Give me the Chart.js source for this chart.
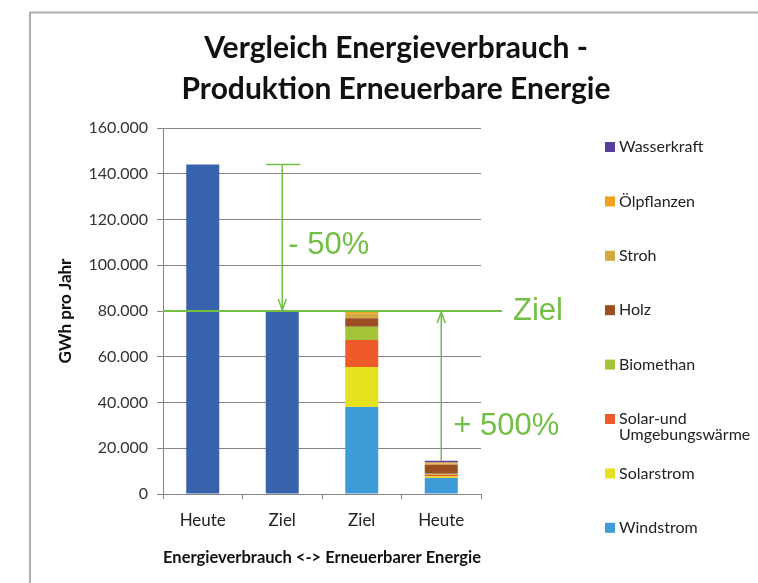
<!DOCTYPE html>
<html>
<head>
<meta charset="utf-8">
<script src="https://cdn.jsdelivr.net/npm/chart.js@4"></script>
<style>
  html, body { margin: 0; padding: 0; background: #fff; }
  #wrap { width: 758px; height: 583px; }
</style>
</head>
<body>
<div id="wrap"><canvas id="chart" width="758" height="583"></canvas></div>
<script>
// ================== Daten ==================
const KATEGORIEN = ["Heute", "Ziel", "Ziel", "Heute"];
const TITEL = ["Vergleich Energieverbrauch -", "Produktion Erneuerbare Energie"];
const Y_TICKS = [0, 20000, 40000, 60000, 80000, 100000, 120000, 140000, 160000];

// Energieverbrauch (GWh pro Jahr)
const verbrauch   = [144000, 80000, null, null];
// Erneuerbare Energie, gestapelt (Ziel / Heute)
const windstrom   = [null, null, 38000, 7000];
const solarstrom  = [null, null, 17500, 700];
const solarwaerme = [null, null, 11800, 700];
const biomethan   = [null, null, 5800, 500];
const holz        = [null, null, 3700, 3900];
const stroh       = [null, null, 2200, 500];
const oelpflanzen = [null, null, 600, 500];
const wasserkraft = [null, null, 400, 700];
const ZIEL = 80000;

const GRUEN = "#72bf44";
const GRID = "#8c8181";

// ================== Chart ==================
const ds = (label, data, color, legend = true) => ({ label, data, backgroundColor: color, legend });

const datasets = [
  ds("Energieverbrauch", verbrauch, "#3862ac", false),
  ds("Windstrom", windstrom, "#3d9bd8"),
  ds("Solarstrom", solarstrom, "#e6e11f"),
  ds("Solar-und\nUmgebungswärme", solarwaerme, "#ee5a2a"),
  ds("Biomethan", biomethan, "#a4c43a"),
  ds("Holz", holz, "#9a4e22"),
  ds("Stroh", stroh, "#d3a83c"),
  ds("Ölpflanzen", oelpflanzen, "#f2a01e"),
  ds("Wasserkraft", wasserkraft, "#5a3e9e")
];

// Rahmen, Titel, Legende und Ziel-Annotationen
const extras = {
  id: "extras",
  beforeDraw(chart) {
    const c = chart.ctx;
    c.save();
    c.fillStyle = "#fff";
    c.fillRect(0, 0, chart.width, chart.height);
    c.strokeStyle = "#b3adab";
    c.lineWidth = 2;
    c.beginPath();
    c.moveTo(30, chart.height + 5);
    c.lineTo(30, 12.5);
    c.lineTo(chart.width + 5, 12.5);
    c.stroke();
    // Titel
    c.fillStyle = "#111";
    c.font = "bold 30px Lato";
    c.textAlign = "center";
    c.textBaseline = "middle";
    TITEL.forEach((t, i) => c.fillText(t, 396, 48 + i * 41));
    c.restore();
  },
  afterDatasetsDraw(chart) {
    const c = chart.ctx;
    const x = chart.scales.x, y = chart.scales.y;
    const area = chart.chartArea;
    const y80 = y.getPixelForValue(ZIEL);
    c.save();
    c.strokeStyle = GRUEN;
    c.fillStyle = GRUEN;
    c.lineWidth = 2;
    // Ziel-Linie
    c.beginPath();
    c.moveTo(area.left, y80);
    c.lineTo(area.right + 21, y80);
    c.stroke();
    c.font = "31px 'Liberation Sans'";
    c.textBaseline = "middle";
    c.textAlign = "left";
    c.fillText("Ziel", area.right + 32, y80);

    const pfeil = (px, yFrom, yTo) => {
      c.beginPath();
      c.moveTo(px, yFrom);
      c.lineTo(px, yTo);
      c.stroke();
      const d = yTo > yFrom ? -1 : 1;
      c.beginPath();
      c.moveTo(px - 4, yTo + d * 11);
      c.lineTo(px, yTo);
      c.lineTo(px + 4, yTo + d * 11);
      c.stroke();
    };

    // - 50 %
    const x1 = x.getPixelForValue(1);
    const yTop = y.getPixelForValue(verbrauch[0]);
    c.lineWidth = 1.5;
    c.beginPath();
    c.moveTo(x1 - 16, yTop);
    c.lineTo(x1 + 18, yTop);
    c.stroke();
    pfeil(x1, yTop, y80 - 1);
    c.fillText("- 50%", x1 + 6, (yTop + y80) / 2 + 8);

    // + 500 %
    const x3 = x.getPixelForValue(3);
    const summe = datasets.slice(1).reduce((s, d) => s + (d.data[3] || 0), 0);
    const yHeute = y.getPixelForValue(summe);
    pfeil(x3, yHeute, y80 + 1);
    c.fillText("+ 500%", x3 + 12, y80 + (yHeute - y80) * 0.77);

    // Legende (umgekehrte Reihenfolge)
    c.font = "16px Lato";
    c.textBaseline = "middle";
    const items = datasets.filter(d => d.legend).reverse();
    items.forEach((d, i) => {
      const ly = 147 + i * 54.4;
      c.fillStyle = d.backgroundColor;
      c.fillRect(605, ly - 5, 10, 10);
      c.fillStyle = "#222";
      d.label.split("\n").forEach((t, j) => c.fillText(t, 619, ly + j * 16));
    });
    c.restore();
  }
};

new Chart(document.getElementById("chart").getContext("2d"), {
  type: "bar",
  data: { labels: KATEGORIEN, datasets },
  plugins: [extras],
  options: {
    responsive: false,
    animation: false,
    layout: { padding: { left: 48, right: 277, top: 128, bottom: 10 } },
    datasets: { bar: { barPercentage: 0.5, categoryPercentage: 0.83 } },
    plugins: { legend: { display: false }, tooltip: { enabled: false } },
    scales: {
      x: {
        stacked: true,
        grid: { drawOnChartArea: false, drawTicks: true, tickLength: 5, color: GRID },
        border: { color: GRID, width: 1 },
        ticks: { color: "#222", font: { family: "Lato", size: 17 }, padding: 11 },
        title: {
          display: true,
          text: "Energieverbrauch <-> Erneuerbarer Energie",
          color: "#111",
          font: { family: "Lato", size: 17, weight: "bold" },
          padding: { top: 0, bottom: 5 }
        },
        afterFit(s) { s.height = 79; }
      },
      y: {
        stacked: true,
        min: 0,
        max: 160000,
        afterBuildTicks(s) { s.ticks = Y_TICKS.map(v => ({ value: v })); },
        grid: { color: GRID, tickLength: 6 },
        border: { color: GRID, width: 1 },
        ticks: {
          color: "#333",
          font: { family: "Lato", size: 16 },
          padding: 9,
          callback: v => String(v).replace(/\B(?=(\d{3})+(?!\d))/g, ".")
        },
        title: {
          display: true,
          text: "GWh pro Jahr",
          color: "#111",
          font: { family: "Lato", size: 17, weight: "bold" },
          padding: { top: 7, bottom: 0 }
        },
        afterFit(s) { s.width = 115; }
      }
    }
  }
});
</script>
</body>
</html>
